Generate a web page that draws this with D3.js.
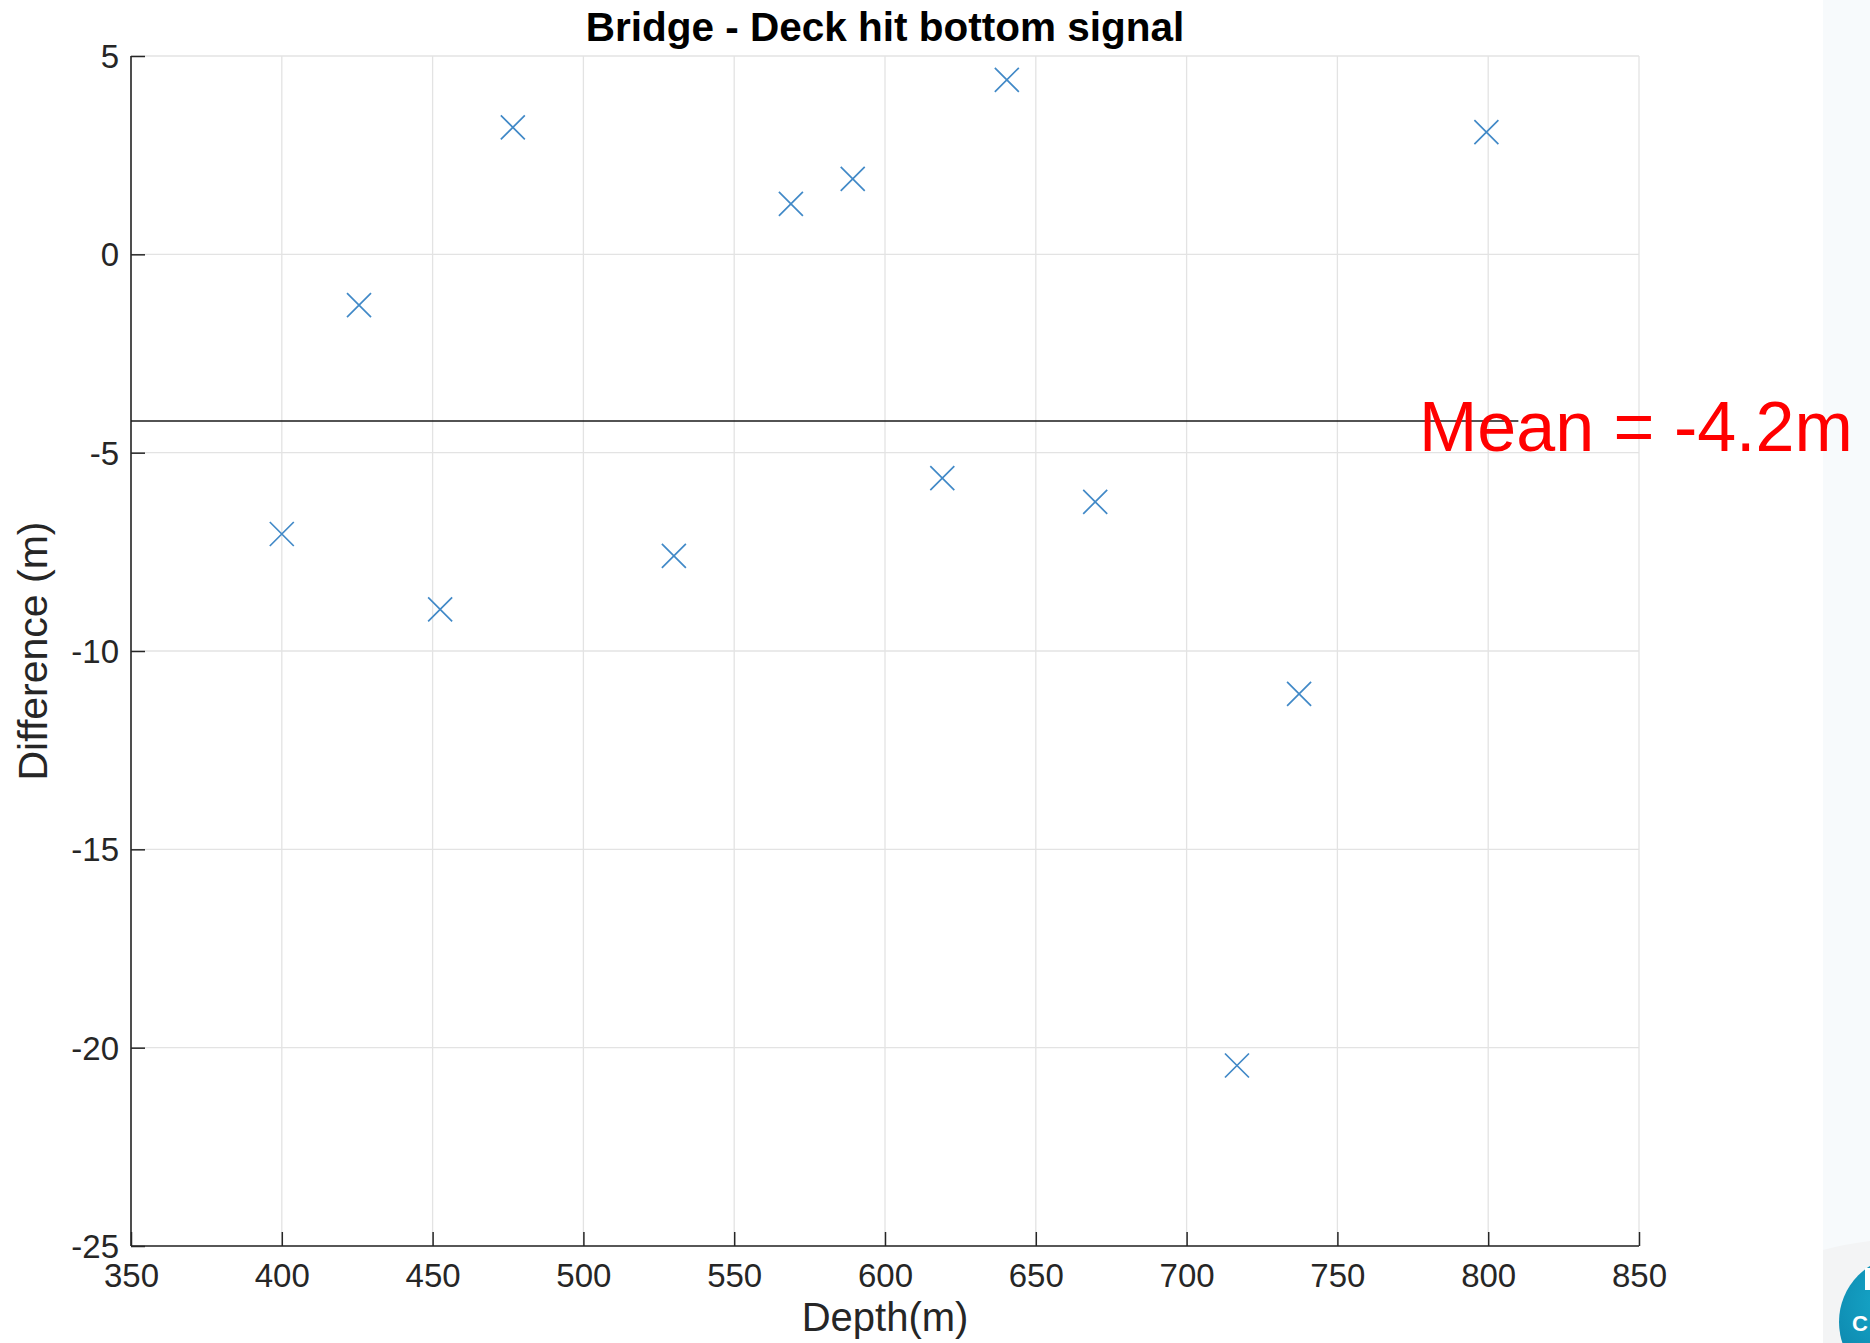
<!DOCTYPE html>
<html>
<head>
<meta charset="utf-8">
<script src="https://cdn.jsdelivr.net/npm/d3@7"></script>
<style>
  html, body { margin: 0; padding: 0; background: #ffffff; }
  svg { display: block; }
</style>
</head>
<body>
<svg id="chart" width="1870" height="1343"></svg>
<script>
// ---- data ----
const depth = [400, 425.6, 452.5, 476.6, 530, 568.8, 589.3, 619, 640.4, 669.7, 716.7, 737.3, 799.4];
const difference = [-7.05, -1.28, -8.95, 3.2, -7.6, 1.27, 1.9, -5.64, 4.4, -6.24, -20.45, -11.08, 3.08];
const xTicks = [350, 400, 450, 500, 550, 600, 650, 700, 750, 800, 850];
const yTicks = [5, 0, -5, -10, -15, -20, -25];
const meanValue = [-4.2];
const meanExtent = [350, 810];
const titleText = "Bridge - Deck hit bottom signal";
const xLabel = "Depth(m)";
const yLabel = "Difference (m)";
const meanLabel = "Mean = -4.2m";

(function () {
// ---- layout ----
const svg = d3.select("#chart");
const pLeft = 131, pRight = 1639, pTop = 56, pBottom = 1246;
const x = d3.scaleLinear().domain([350, 850]).range([pLeft, pRight]);
const y = d3.scaleLinear().domain([-25, 5]).range([pBottom, pTop]);
const textColor = "#262626";
const font = "'Liberation Sans', Arial, Helvetica, sans-serif";

// right side slide panel + logo
svg.append("rect").attr("x", 1823).attr("y", 0).attr("width", 47).attr("height", 1343).attr("fill", "#f7fafc");
svg.append("path").attr("d", "M1823,1250 Q1845,1244 1870,1241 L1870,1343 L1823,1343 Z").attr("fill", "#f3f4f5");
const grad = svg.append("defs").append("radialGradient").attr("id", "lg").attr("cx", "40%").attr("cy", "35%").attr("r", "70%");
grad.append("stop").attr("offset", "0%").attr("stop-color", "#17aacb");
grad.append("stop").attr("offset", "100%").attr("stop-color", "#0a7ea6");
svg.append("circle").attr("cx", 1905).attr("cy", 1322).attr("r", 66).attr("fill", "url(#lg)");
svg.append("rect").attr("x", 1865).attr("y", 1268).attr("width", 6).attr("height", 22).attr("fill", "#ffffff");
svg.append("text").attr("x", 1852).attr("y", 1331).attr("font-family", font).attr("font-weight", "bold")
  .attr("font-size", 22).attr("fill", "#ffffff").text("C");

// grid
const grid = svg.append("g").attr("stroke", "#e3e3e3").attr("stroke-width", 1.3);
grid.selectAll("line.gx").data(xTicks).enter().append("line")
  .attr("x1", d => x(d)).attr("x2", d => x(d)).attr("y1", pTop).attr("y2", pBottom);
grid.selectAll("line.gy").data(yTicks).enter().append("line")
  .attr("x1", pLeft).attr("x2", pRight).attr("y1", d => y(d)).attr("y2", d => y(d));

// axes (MATLAB style, ticks inward)
const fmt = d => String(d);
const xAxis = d3.axisBottom(x).tickValues(xTicks).tickSize(-14).tickFormat(fmt);
const yAxis = d3.axisLeft(y).tickValues(yTicks).tickSize(-14).tickFormat(fmt);

const gx = svg.append("g").attr("transform", `translate(0,${pBottom})`).call(xAxis);
const gy = svg.append("g").attr("transform", `translate(${pLeft},0)`).call(yAxis);
[gx, gy].forEach(g => {
  g.select(".domain").attr("stroke", textColor).attr("stroke-width", 1.6);
  g.selectAll(".tick line").attr("stroke", textColor).attr("stroke-width", 1.5);
  g.selectAll(".tick text").attr("fill", textColor).attr("font-family", font).attr("font-size", 33);
});
gx.select(".domain").attr("d", `M${pLeft},0H${pRight}`);
gy.select(".domain").attr("d", `M0,${pBottom}V${pTop}`);
gx.selectAll(".tick text").attr("y", 18).attr("dy", "0.71em");
gy.selectAll(".tick text").attr("x", -12).attr("dy", "0.35em");

// mean line
svg.selectAll("line.mean").data(meanValue).enter().append("line")
  .attr("class", "mean")
  .attr("x1", x(meanExtent[0])).attr("x2", x(meanExtent[1]))
  .attr("y1", d => y(d)).attr("y2", d => y(d))
  .attr("stroke", "#1a1a1a").attr("stroke-width", 1.6);

// markers
const s = 12;
const pts = svg.append("g").attr("stroke", "#4189c7").attr("stroke-width", 1.7).attr("fill", "none");
depth.forEach((d, i) => {
  const cx = x(d), cy = y(difference[i]);
  pts.append("path").attr("d", `M${cx - s},${cy - s}L${cx + s},${cy + s}M${cx - s},${cy + s}L${cx + s},${cy - s}`);
});

// title
svg.append("text").attr("x", (pLeft + pRight) / 2).attr("y", 41).attr("text-anchor", "middle")
  .attr("font-family", font).attr("font-weight", "bold").attr("font-size", 40.5).attr("fill", "#000")
  .text(titleText);

// axis labels
svg.append("text").attr("x", (pLeft + pRight) / 2).attr("y", 1331).attr("text-anchor", "middle")
  .attr("font-family", font).attr("font-size", 40).attr("fill", textColor).text(xLabel);
svg.append("text").attr("transform", `translate(47,${(pTop + pBottom) / 2}) rotate(-90)`).attr("text-anchor", "middle")
  .attr("font-family", font).attr("font-size", 41).attr("fill", textColor).text(yLabel);

// mean annotation
svg.append("text").attr("x", 1419).attr("y", 451).attr("font-family", font).attr("font-size", 70)
  .attr("fill", "#ff0000").text(meanLabel);
})();
</script>
</body>
</html>
